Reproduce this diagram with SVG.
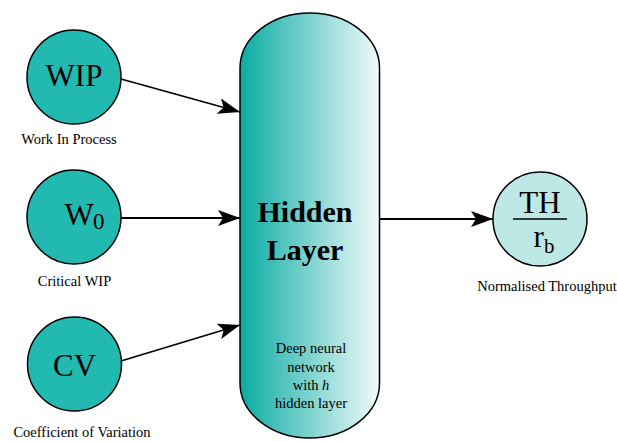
<svg xmlns="http://www.w3.org/2000/svg" width="617" height="441" viewBox="0 0 617 441" font-family="'Liberation Serif', serif">
<defs>
<linearGradient id="hg" x1="0" y1="0" x2="1" y2="0">
<stop offset="0" stop-color="#0aaba3"/>
<stop offset="1" stop-color="#f2fbfb"/>
</linearGradient>
<marker id="ah" viewBox="0 0 22 16" refX="22" refY="8" markerWidth="22" markerHeight="16" markerUnits="userSpaceOnUse" orient="auto">
<path d="M0,0 L22,8 L0,16 L5,8 Z" fill="#000"/>
</marker>
<style>
.in{fill:#22b9b1;stroke:#000;stroke-width:1.5}
text{font-family:'Liberation Serif',serif}
.big{font-size:31px;fill:#000;text-anchor:middle}
.lbl{font-size:14.5px;fill:#000;text-anchor:middle}
.hl{font-size:30px;font-weight:bold;fill:#000;text-anchor:middle}
.conn{stroke:#000;stroke-width:1.8;fill:none;marker-end:url(#ah)}
</style>
</defs>
<rect width="617" height="441" fill="#fff"/>
<g id="connectors">
<line class="conn" x1="121" y1="79" x2="240" y2="112"/>
<line class="conn" x1="121" y1="218" x2="240" y2="218"/>
<line class="conn" x1="121" y1="361" x2="240" y2="325"/>
<line class="conn" x1="380" y1="219" x2="493" y2="219"/>
</g>
<g id="hidden">
<rect x="240" y="13" width="139.5" height="425" rx="69.75" ry="55" fill="url(#hg)" stroke="#000" stroke-width="1.5"/>
<text class="hl" x="305" y="222">Hidden</text>
<text class="hl" x="305" y="260">Layer</text>
<text class="lbl" x="311" y="353">Deep neural</text>
<text class="lbl" x="311" y="372">network</text>
<text class="lbl" x="311" y="390">with <tspan font-style="italic">h</tspan></text>
<text class="lbl" x="311" y="408">hidden layer</text>
</g>
<g id="wip">
<circle class="in" cx="74" cy="77" r="47"/>
<text class="big" x="74" y="86">WIP</text>
<text class="lbl" x="69" y="144">Work In Process</text>
</g>
<g id="w0">
<circle class="in" cx="74" cy="217" r="47"/>
<text class="big" x="84" y="225" letter-spacing="-1">W<tspan font-size="23" dy="4">0</tspan></text>
<text class="lbl" x="74.5" y="286">Critical WIP</text>
</g>
<g id="cv">
<circle class="in" cx="74.5" cy="364" r="47"/>
<text class="big" x="74.5" y="376">CV</text>
<text class="lbl" x="82" y="437">Coefficient of Variation</text>
</g>
<g id="th">
<circle cx="540" cy="219" r="47" fill="#bde8e6" stroke="#000" stroke-width="1.5"/>
<text class="big" x="540" y="213">TH</text>
<line x1="513" y1="219" x2="567" y2="219" stroke="#000" stroke-width="1.5"/>
<text class="big" x="544" y="247">r<tspan font-size="21" dy="6">b</tspan></text>
<text class="lbl" x="547" y="291">Normalised Throughput</text>
</g>
</svg>
